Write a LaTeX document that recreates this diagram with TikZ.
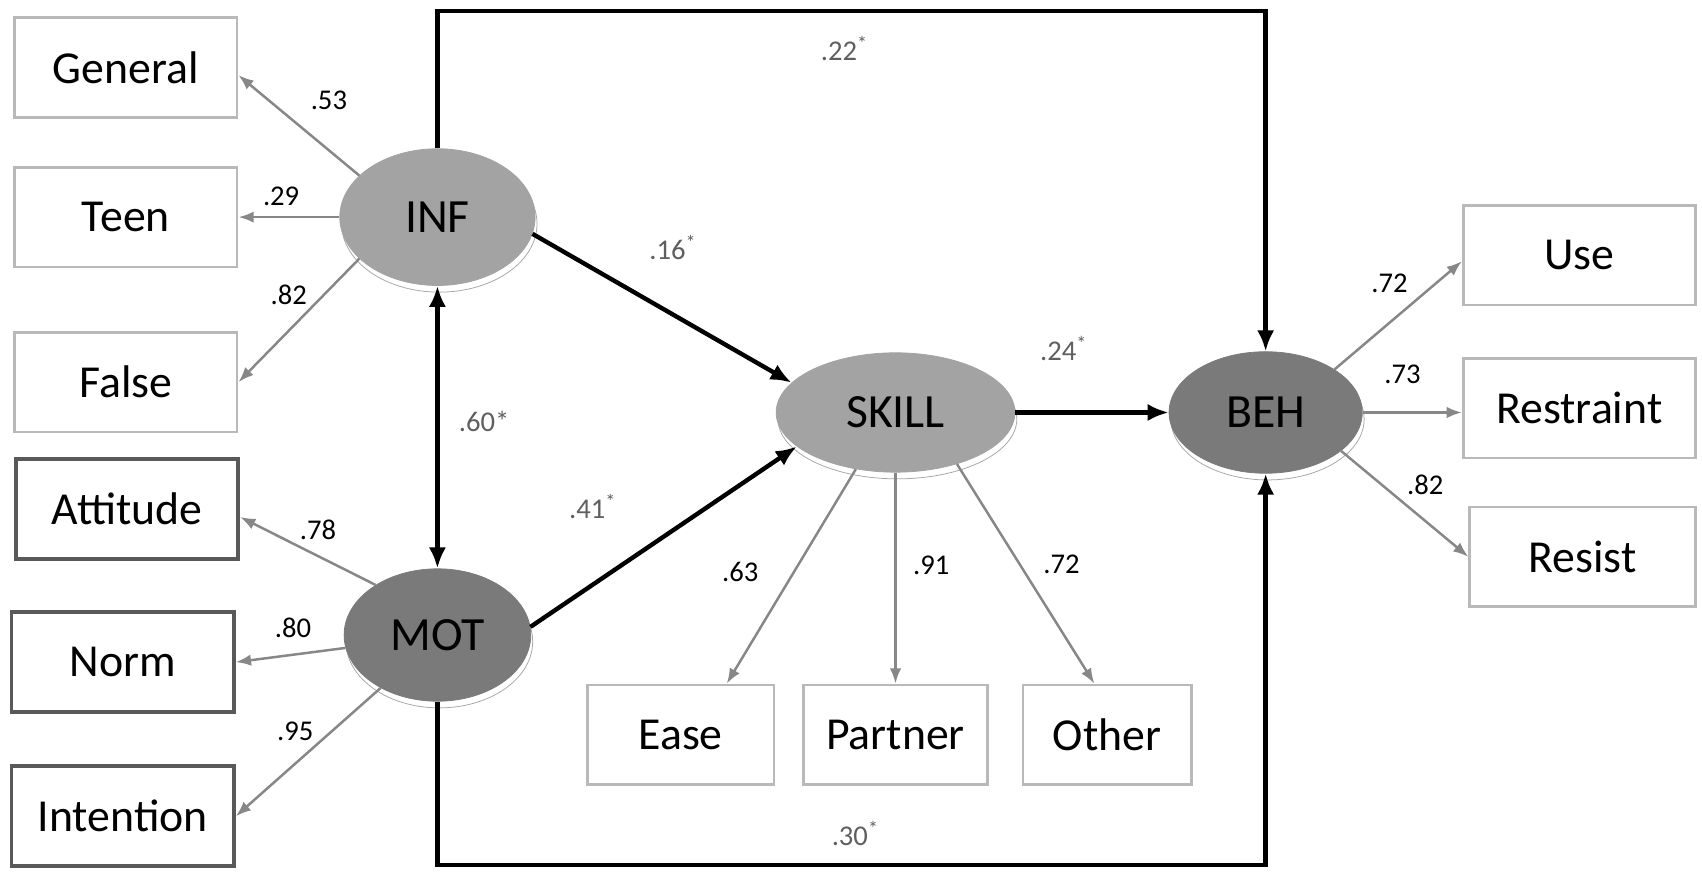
\documentclass[tikz,border=0pt]{standalone}
\usepackage{fontspec}
\setmainfont{Carlito}
\usetikzlibrary{arrows.meta,shapes.geometric,shadows}

\definecolor{lightlat}{RGB}{163,163,163}
\definecolor{darklat}{RGB}{122,122,122}
\definecolor{loadline}{RGB}{135,135,135}
\definecolor{coefgray}{RGB}{95,95,95}

\tikzset{
  latent/.style={ellipse, draw=#1, fill=#1, inner sep=0pt, font=\fontsize{25}{30}\selectfont,
    drop shadow={shadow xshift=1pt, shadow yshift=-3.5pt, fill=white, draw=gray!70, opacity=1}},
  item/.style={draw=gray!55, line width=1.4pt, minimum width=4.1cm, minimum height=1.84cm, font=\fontsize{24}{29}\selectfont},
  itemdark/.style={item, draw=black!65, line width=2pt},
  load/.style={draw=loadline, line width=1.3pt, -{Latex[length=8pt,width=6pt]}},
  struct/.style={line width=2.3pt, >={Latex[length=11pt,width=9pt]}, ->},
  coef/.style={font=\fontsize{15}{18}\selectfont},
  scoef/.style={coef, text=coefgray}
}

\begin{document}
\begin{tikzpicture}[x=0.02cm, y=-0.02cm]
\useasboundingbox (0,0) rectangle (1568,806);

% latent variables
\node[latent=lightlat, minimum width=3.6cm, minimum height=2.52cm] (inf) at (403,200) {INF};
\node[latent=darklat, minimum width=3.44cm, minimum height=2.44cm] (mot) at (403,585) {MOT};
\node[latent=lightlat, minimum width=4.4cm, minimum height=2.2cm] (skill) at (825,380) {SKILL};
\node[latent=darklat, minimum width=3.56cm, minimum height=2.24cm] (beh) at (1166,380) {BEH};

% indicators
\node[item] (general) at (116,62) {General};
\node[item] (teen) at (116,200) {Teen};
\node[item] (false) at (116,352) {False};
\node[itemdark] (attitude) at (117,469) {Attitude};
\node[itemdark] (norm) at (113,610) {Norm};
\node[itemdark] (intention) at (113,752) {Intention};
\node[item, minimum width=3.44cm] (ease) at (627,677) {Ease};
\node[item, minimum width=3.4cm] (partner) at (825,677) {Partner};
\node[item, minimum width=3.1cm] (other) at (1020,677) {Other};
\node[item, minimum width=4.28cm] (use) at (1455,235) {Use};
\node[item, minimum width=4.28cm] (restraint) at (1455,376) {Restraint};
\node[item, minimum width=4.16cm] (resist) at (1458,513) {Resist};

% frame corners
\coordinate (tl) at (403,10);
\coordinate (tr) at (1166,10);
\coordinate (bl) at (403,797);
\coordinate (br) at (1166,797);

% structural paths
\draw[struct] (inf.north) -- (tl) -- (tr) -- (beh.north);
\draw[struct] (mot.south) -- (bl) -- (br) -- (beh.south);
\draw[struct, <->] (inf.south) -- (mot.north);
\draw[struct] (inf.-10) -- (skill.164);
\draw[struct] (mot.5) -- (skill.199);
\draw[struct] (skill.east) -- (beh.west);

% loadings
\draw[load] (inf.152) -- (general.-4);
\draw[load] (inf.west) -- (teen.east);
\draw[load] (inf.208) -- (false.east);
\draw[load] (mot.141) -- (attitude.-4);
\draw[load] (mot.188) -- (norm.east);
\draw[load] (mot.223) -- (intention.east);
\draw[load] (skill.235) -- (ease.48);
\draw[load] (skill.south) -- (partner.north);
\draw[load] (skill.320) -- (other.104);
\draw[load] (beh.32) -- (use.183);
\draw[load] (beh.east) -- (beh.east -| restraint.west);
\draw[load] (beh.333) -- (resist.west);

% coefficients
\node[scoef] (c22) at (778,45) {.22\textsuperscript{*}};
\node[scoef] (c30) at (788,768) {.30\textsuperscript{*}};
\node[scoef] (c16) at (620,228) {.16\textsuperscript{*}};
\node[scoef] (c24) at (980,321) {.24\textsuperscript{*}};
\node[scoef] (c60) at (446,388) {.60*};
\node[scoef] (c41) at (546,467) {.41\textsuperscript{*}};
\node[coef] (c53) at (303,92) {.53};
\node[coef] (c29) at (259,181) {.29};
\node[coef] (c82a) at (266,272) {.82};
\node[coef] (c78) at (293,488) {.78};
\node[coef] (c80) at (270,578) {.80};
\node[coef] (c95) at (272,674) {.95};
\node[coef] (c63) at (682,527) {.63};
\node[coef] (c91) at (858,521) {.91};
\node[coef] (c72a) at (978,520) {.72};
\node[coef] (c72b) at (1280,261) {.72};
\node[coef] (c73) at (1292,345) {.73};
\node[coef] (c82b) at (1313,447) {.82};
\end{tikzpicture}
\end{document}
